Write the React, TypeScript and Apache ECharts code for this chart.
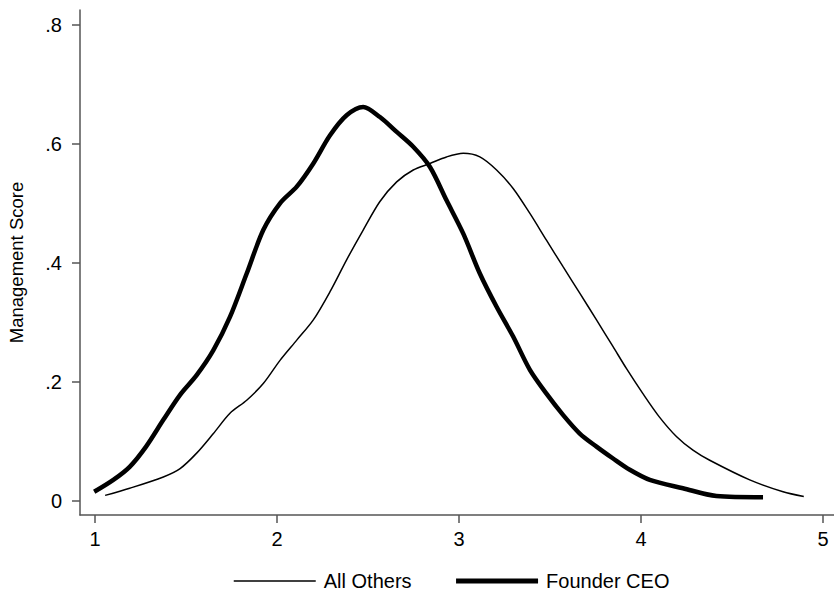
import React, { useEffect, useRef } from "react";
import * as echarts from "echarts";

const xTicks = [1, 2, 3, 4, 5];
const yTicks = [0, 0.2, 0.4, 0.6, 0.8];

const allOthersX = [1.055, 1.19, 1.375, 1.467, 1.558, 1.65, 1.741, 1.833, 1.924, 2.016, 2.108, 2.199, 2.29, 2.382, 2.473, 2.565, 2.657, 2.748, 2.84, 2.931, 3.023, 3.114, 3.206, 3.297, 3.389, 3.48, 3.572, 3.663, 3.755, 3.846, 3.92, 4.01, 4.1, 4.194, 4.285, 4.377, 4.597, 4.78, 4.894];
const allOthersY = [0.009, 0.021, 0.04, 0.054, 0.08, 0.113, 0.147, 0.169, 0.197, 0.236, 0.27, 0.304, 0.351, 0.405, 0.455, 0.503, 0.536, 0.556, 0.567, 0.578, 0.584, 0.578, 0.556, 0.525, 0.483, 0.438, 0.393, 0.349, 0.304, 0.259, 0.222, 0.18, 0.141, 0.108, 0.085, 0.068, 0.035, 0.015, 0.007];

const founderX = [0.995, 1.1, 1.19, 1.28, 1.375, 1.467, 1.558, 1.65, 1.741, 1.833, 1.924, 2.016, 2.108, 2.199, 2.29, 2.382, 2.473, 2.565, 2.657, 2.748, 2.84, 2.931, 3.023, 3.114, 3.206, 3.297, 3.389, 3.48, 3.572, 3.663, 3.755, 3.846, 3.938, 4.048, 4.23, 4.414, 4.67];
const founderY = [0.015, 0.035, 0.057, 0.091, 0.136, 0.178, 0.211, 0.253, 0.309, 0.382, 0.455, 0.5, 0.528, 0.567, 0.614, 0.648, 0.662, 0.645, 0.62, 0.595, 0.561, 0.505, 0.449, 0.382, 0.326, 0.276, 0.22, 0.18, 0.144, 0.113, 0.091, 0.071, 0.052, 0.035, 0.021, 0.008, 0.006];

const FONT = "Liberation Sans, Arial, Helvetica, sans-serif";
const AXIS_COLOR = "#555555";
const THIN = 1.5;
const THICK = 4.5;

export default function App() {
  const ref = useRef<HTMLDivElement>(null);
  useEffect(() => {
    if (!ref.current) return;
    const chart = echarts.init(ref.current, null, { renderer: "svg" });
    chart.setOption({
      animation: false,
      backgroundColor: "#ffffff",
      grid: { left: 80, top: 10, width: 754, height: 505, containLabel: false, outerBoundsMode: "none" },
      legend: {
        left: 228,
        top: 566,
        itemWidth: 82,
        itemHeight: 16,
        itemGap: 42,
        itemStyle: { color: "rgba(0,0,0,0)", opacity: 0, borderWidth: 0 },
        textStyle: { fontFamily: FONT, fontSize: 20, color: "#000", padding: [0, 0, 0, 3] },
        data: [
          { name: "All Others", lineStyle: { width: THIN, color: "#000" } },
          { name: "Founder CEO", lineStyle: { width: 5, color: "#000" } },
        ],
      },
      xAxis: {
        type: "value",
        min: 0.917,
        max: 5.06,
        axisLine: { show: true, onZero: false, lineStyle: { color: AXIS_COLOR, width: 1.5 } },
        axisTick: { show: true, length: 8, customValues: xTicks, lineStyle: { color: AXIS_COLOR, width: 1.5 } },
        axisLabel: { customValues: xTicks, margin: 14, fontFamily: FONT, fontSize: 20, color: "#000" },
        splitLine: { show: false },
      },
      yAxis: {
        type: "value",
        min: -0.024,
        max: 0.825,
        name: "Management Score",
        nameLocation: "middle",
        nameGap: 54,
        nameTextStyle: { fontFamily: FONT, fontSize: 18.5, color: "#000" },
        axisLine: { show: true, onZero: false, lineStyle: { color: AXIS_COLOR, width: 1.5 } },
        axisTick: { show: true, length: 8, customValues: yTicks, lineStyle: { color: AXIS_COLOR, width: 1.5 } },
        axisLabel: {
          customValues: yTicks,
          margin: 18,
          fontFamily: FONT,
          fontSize: 20,
          color: "#000",
          padding: [7, 0, 0, 0],
          formatter: (v: number) => (Math.abs(v) < 1e-9 ? "0" : String(Math.round(v * 10) / 10).replace(/^0\./, ".")),
        },
        splitLine: { show: false },
      },
      series: [
        {
          name: "All Others",
          type: "line",
          symbol: "none",
          smooth: 0.3,
          lineStyle: { color: "#000", width: THIN },
          itemStyle: { color: "#000" },
          data: allOthersX.map((x, i) => [x, allOthersY[i]]),
        },
        {
          name: "Founder CEO",
          type: "line",
          symbol: "none",
          smooth: 0.3,
          lineStyle: { color: "#000", width: THICK },
          itemStyle: { color: "#000" },
          data: founderX.map((x, i) => [x, founderY[i]]),
        },
      ],
    });
    return () => chart.dispose();
  }, []);
  return <div ref={ref} style={{ width: 834, height: 597, position: "absolute", left: 0, top: 0 }} />;
}
